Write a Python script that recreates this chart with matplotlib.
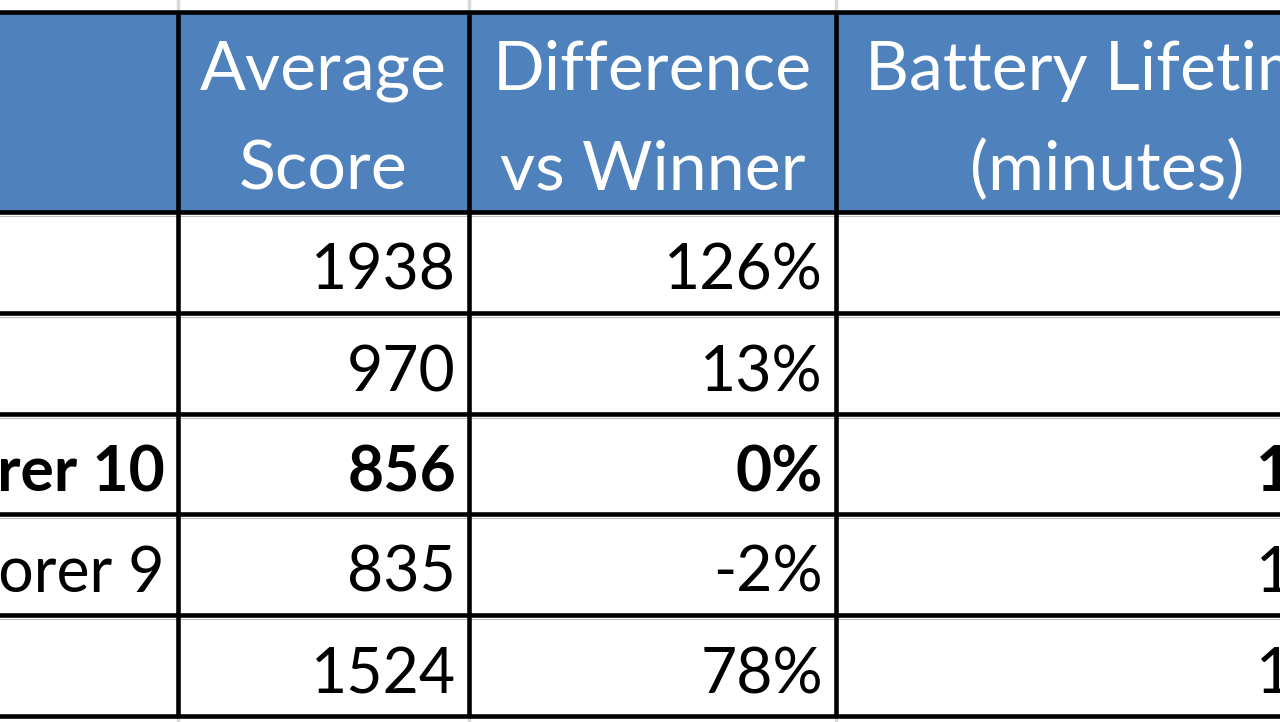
import matplotlib
matplotlib.use("Agg")
import matplotlib.pyplot as plt
from matplotlib.patches import Rectangle

# ---- data ----
headers = ["", "Average\nScore", "Difference\nvs Winner", "Battery Lifetime\n(minutes)"]
labels = ["", "", "Internet Explorer 10", "Internet Explorer 9", ""]
scores = [1938, 970, 856, 835, 1524]
diff_vs_winner = ["126%", "13%", "0%", "-2%", "78%"]
battery = ["", "", "180", "175", "160"]   # only first digit visible in the crop (estimated)
bold_rows = [2]

# ---- layout (pixel space) ----
W, H = 1280, 722
x_edges = [-300, 178, 469, 836, 1378]
y_edges = [12, 212, 313, 414, 514, 615, 716]
pad = 13
HEADER_BLUE = "#4F81BD"
FONT = ["Lato", "DejaVu Sans"]
FS = 45
HFS = 49

fig = plt.figure(figsize=(W / 100, H / 100), dpi=100)
ax = fig.add_axes([0, 0, 1, 1])
ax.set_xlim(0, W)
ax.set_ylim(H, 0)
ax.axis("off")

# faint spreadsheet gridlines behind
for x in x_edges[1:4]:
    ax.plot([x, x], [0, H], color="#D9D9D9", lw=2.5, zorder=0)

# header fill
ax.add_patch(Rectangle((x_edges[0], y_edges[0]), x_edges[-1] - x_edges[0],
                       y_edges[1] - y_edges[0], facecolor=HEADER_BLUE,
                       edgecolor="none", zorder=1))
# body fill
ax.add_patch(Rectangle((x_edges[0], y_edges[1]), x_edges[-1] - x_edges[0],
                       y_edges[-1] - y_edges[1], facecolor="white",
                       edgecolor="none", zorder=1))

# thin gray gridlines just under black rules
for y in y_edges[1:-1]:
    ax.plot([x_edges[0], x_edges[-1]], [y + 4, y + 4], color="#BFBFBF", lw=0.8, zorder=2)

# black rules
for y in y_edges:
    ax.plot([x_edges[0], x_edges[-1]], [y, y], color="black", lw=3.3, zorder=3,
            solid_capstyle="butt")
for x in x_edges[1:]:
    ax.plot([x, x], [y_edges[0], y_edges[-1]], color="black", lw=3.3, zorder=3,
            solid_capstyle="butt")

# header text
for i, h in enumerate(headers):
    if not h:
        continue
    cx = (x_edges[i] + x_edges[i + 1]) / 2
    lines = h.split("\n")
    for j, line in enumerate(lines):
        ax.text(cx, y_edges[0] + 78 + 100 * j, line, ha="center", va="baseline",
                color="white", fontsize=HFS, family=FONT, zorder=4)

# body text
for r in range(len(scores)):
    yb = y_edges[r + 2] - 23
    weight = "bold" if r in bold_rows else "normal"
    cells = [labels[r], str(scores[r]), diff_vs_winner[r], battery[r]]
    for c, txt in enumerate(cells):
        if not txt:
            continue
        xr = x_edges[c + 1] - pad
        ax.text(xr, yb, txt, ha="right", va="baseline", color="black",
                fontsize=FS, family=FONT, fontweight=weight, zorder=4)

fig.savefig("out.png", dpi=100)
